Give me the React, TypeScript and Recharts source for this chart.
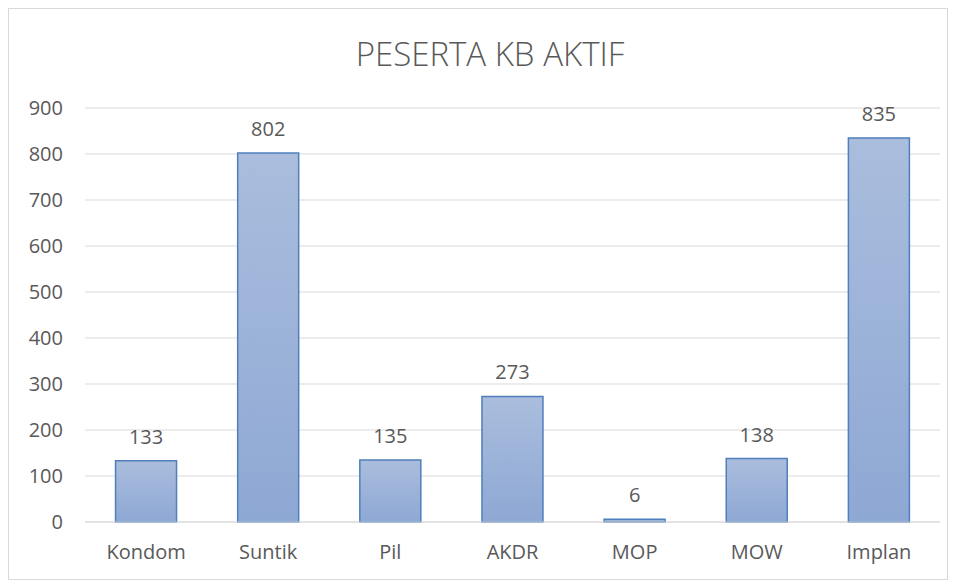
import { Bar, BarChart, CartesianGrid, LabelList, XAxis, YAxis } from "recharts";

const categories = ["Kondom", "Suntik", "Pil", "AKDR", "MOP", "MOW", "Implan"];
const peserta = [133, 802, 135, 273, 6, 138, 835];
const yTicks = [0, 100, 200, 300, 400, 500, 600, 700, 800, 900];

const data = categories.map((name, i) => ({ name, value: peserta[i] }));

const textGray = "#595959";
const font = "'Open Sans', 'Liberation Sans', sans-serif";

export default function App() {
    return (
        <div
            style={{
                position: "relative",
                width: 938,
                height: 570,
                border: "1px solid #d9d9d9",
                background: "#fff",
                fontFamily: font,
            }}
        >
            <div
                style={{
                    position: "absolute",
                    top: 22,
                    left: 24,
                    width: 914,
                    textAlign: "center",
                    fontSize: 33,
                    fontWeight: 300,
                    color: textGray,
                }}
            >
                PESERTA KB AKTIF
            </div>
            <BarChart
                width={938}
                height={570}
                data={data}
                margin={{ top: 99, right: 7, left: 0, bottom: 17 }}
                barCategoryGap="25%"
            >
                <defs>
                    <linearGradient id="barFill" x1="0" x2="0" y1="0" y2="1">
                        <stop offset="0%" stopColor="#AABDDD" />
                        <stop offset="100%" stopColor="#8EA8D4" />
                    </linearGradient>
                </defs>
                <CartesianGrid stroke="#d9d9d9" vertical={false} />
                <XAxis
                    dataKey="name"
                    axisLine={{ stroke: "#d9d9d9" }}
                    tickLine={false}
                    height={40}
                    tickMargin={17}
                    tick={{ fill: textGray, fontSize: 20, fontFamily: font }}
                />
                <YAxis
                    domain={[0, 900]}
                    ticks={yTicks}
                    axisLine={false}
                    tickLine={false}
                    width={76}
                    tickMargin={16}
                    tick={{ fill: textGray, fontSize: 20, fontFamily: font }}
                />
                <Bar
                    dataKey="value"
                    fill="url(#barFill)"
                    stroke="#4F7FBC"
                    strokeWidth={1.5}
                    isAnimationActive={false}
                >
                    <LabelList
                        dataKey="value"
                        position="top"
                        offset={17}
                        fill={textGray}
                        fontSize={20}
                        fontFamily={font}
                    />
                </Bar>
            </BarChart>
        </div>
    );
}
